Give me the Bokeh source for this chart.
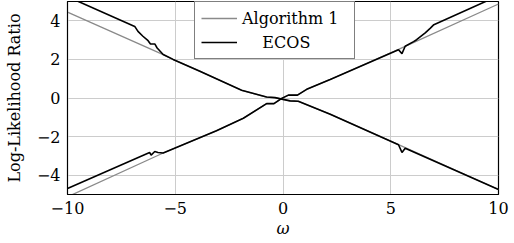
from bokeh.plotting import figure
from bokeh.models import Range1d, FixedTicker, Legend, LegendItem
from bokeh.embed import file_html
from bokeh.resources import INLINE

# ---- data ----
ecos_dec_x = [-10, -6.88, -6.73, -6.5, -6.26, -6.15, -5.95, -5.84, -5.56, -5.1, -3.86, -1.92,
              -0.76, -0.37, 0.0, 0.33, 0.71, 2.19, 5.36, 5.52, 5.67, 10]
ecos_dec_y = [5.25, 3.71, 3.45, 3.2, 2.97, 2.8, 2.8, 2.59, 2.25, 2.0, 1.39, 0.40,
              0.05, 0.02, -0.07, -0.15, -0.17, -0.84, -2.42, -2.82, -2.6, -4.74]

alg_dec_x = [-10, -5.56, -5.1, -3.86, -1.92, -0.76, -0.37, 0.0, 0.33, 0.71, 2.19, 5.36, 10]
alg_dec_y = [4.45, 2.25, 2.0, 1.39, 0.40, 0.05, 0.02, -0.07, -0.15, -0.17, -0.84, -2.42, -4.74]

ecos_inc_x = [-10, -6.19, -6.12, -5.95, -5.8, -5.56, -3.09, -1.84, -0.76, -0.42, -0.06, 0.25,
              0.67, 1.1, 2.19, 5.36, 5.52, 5.67, 6.06, 6.2, 6.6, 6.84, 7.0, 10]
ecos_inc_y = [-4.69, -2.82, -2.96, -2.77, -2.82, -2.85, -1.70, -1.05, -0.29, -0.29, -0.02, 0.15,
              0.15, 0.45, 0.96, 2.5, 2.3, 2.68, 2.92, 3.02, 3.37, 3.62, 3.8, 5.3]

alg_inc_x = [-10, -5.56, -3.09, -1.84, -0.76, -0.42, -0.06, 0.25, 0.67, 1.1, 2.19, 5.36, 10]
alg_inc_y = [-5.12, -2.85, -1.70, -1.05, -0.29, -0.29, -0.02, 0.15, 0.15, 0.45, 0.96, 2.52, 4.87]

x_ticks = [-10, -5, 0, 5, 10]
y_ticks = [-4, -2, 0, 2, 4]
series_labels = ["Algorithm 1", "\u00a0\u00a0\u00a0\u00a0ECOS"]

FONT = "DejaVu Serif"

p = figure(width=514, height=243, output_backend="svg", toolbar_location=None,
           x_range=Range1d(-10, 10), y_range=Range1d(-5, 5),
           min_border_left=67, min_border_right=16, min_border_top=1, min_border_bottom=49)

gray = "#8a8a8a"
r_alg1 = p.line(alg_dec_x, alg_dec_y, line_color=gray, line_width=1.3)
p.line(alg_inc_x, alg_inc_y, line_color=gray, line_width=1.3)
r_ecos = p.line(ecos_dec_x, ecos_dec_y, line_color="black", line_width=1.6)
p.line(ecos_inc_x, ecos_inc_y, line_color="black", line_width=1.6)

p.outline_line_color = "black"
p.outline_line_width = 1.2
p.outline_line_alpha = 1

for ax in (p.xaxis[0], p.yaxis[0]):
    ax.major_label_text_font = FONT
    ax.major_label_text_font_size = "16px"
    ax.major_label_text_color = "black"
    ax.axis_label_text_font = FONT
    ax.axis_label_text_font_size = "16px"
    ax.axis_label_text_font_style = "normal"
    ax.axis_label_text_color = "black"
    ax.axis_line_color = "black"
    ax.major_tick_in = 0
    ax.major_tick_out = 0
    ax.minor_tick_in = 0
    ax.minor_tick_out = 0
    ax.major_label_standoff = 7

p.xaxis[0].ticker = FixedTicker(ticks=x_ticks)
p.yaxis[0].ticker = FixedTicker(ticks=y_ticks)
p.xaxis[0].major_label_overrides = {t: str(t).replace("-", "\u2212") for t in x_ticks}
p.yaxis[0].major_label_overrides = {t: str(t).replace("-", "\u2212") for t in y_ticks}

p.xaxis[0].axis_label = "\u03c9"
p.xaxis[0].axis_label_text_font_style = "italic"
p.xaxis[0].axis_label_standoff = 2
p.yaxis[0].axis_label = "Log-Likelihood Ratio"
p.yaxis[0].axis_label_standoff = 10

p.xgrid.grid_line_color = "#cccccc"
p.ygrid.grid_line_color = "#cccccc"
p.xgrid.grid_line_width = 1
p.ygrid.grid_line_width = 1

legend = Legend(items=[LegendItem(label=series_labels[0], renderers=[r_alg1]),
                       LegendItem(label=series_labels[1], renderers=[r_ecos])],
                location=(127, 135))
legend.label_text_font = FONT
legend.label_text_font_size = "16px"
legend.label_text_color = "black"
legend.glyph_width = 36
legend.glyph_height = 20
legend.label_height = 20
legend.label_width = 106
legend.label_standoff = 5
legend.padding = 6
legend.spacing = 4
legend.margin = 0
legend.border_line_color = "black"
legend.border_line_width = 1
legend.background_fill_alpha = 1
p.add_layout(legend, "center")

open("out.html", "w").write(file_html(p, INLINE))
